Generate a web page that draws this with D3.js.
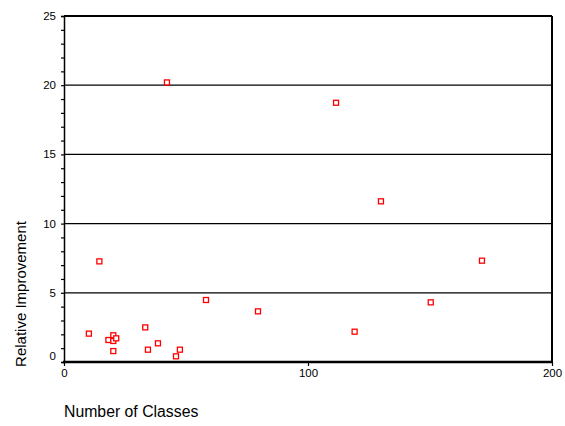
<!DOCTYPE html>
<html><head><meta charset="utf-8">
<script src="https://cdn.jsdelivr.net/npm/d3@7"></script>
<style>body{margin:0;background:#fff}svg{display:block}text{font-family:Arial,"Liberation Sans",sans-serif;fill:#000}</style>
</head><body>
<svg id="c" width="565" height="426"></svg>
<script>
const classes = [42.2, 111.5, 129.9, 171.3, 150.3, 119.1, 14.5, 10.2, 20.2, 18.2, 20.2, 21.4, 20.2, 33.3, 34.4, 38.5, 45.9, 47.5, 58.2, 79.5];
const improvement = [20.2, 18.73, 11.61, 7.32, 4.31, 2.19, 7.27, 2.05, 1.93, 1.59, 1.52, 1.71, 0.79, 2.50, 0.89, 1.35, 0.41, 0.89, 4.48, 3.66];
const xTicks = [0, 100, 200];
const yTicks = [0, 5, 10, 15, 20, 25];
const yMinor = d3.range(0, 26, 1);

const svg = d3.select("#c");
const L = 64, R = 552, T = 16, B = 362;
const x = d3.scaleLinear().domain([0, 200]).range([L, R]);
const y = d3.scaleLinear().domain([0, 25]).range([B, T]);

// gridlines
svg.append("g").selectAll("line").data(yTicks.filter(d => d > 0 && d < 25)).join("line")
  .attr("x1", L).attr("x2", R).attr("y1", d => y(d)).attr("y2", d => y(d))
  .attr("stroke", "#000").attr("stroke-width", 1.3);

// y axis
const ya = svg.append("g").attr("transform", `translate(${L},0)`)
  .call(d3.axisLeft(y).tickValues(yMinor).tickSize(3).tickFormat(""));
ya.select(".domain").attr("stroke-width", 1.5);
ya.selectAll("line").attr("stroke-width", 1.2);
svg.append("g").selectAll("text").data(yTicks).join("text")
  .attr("x", 56).attr("y", d => y(d) - (d === 0 ? 6 : 0)).attr("dy", "0.35em")
  .attr("text-anchor", "end").attr("font-size", 11.5).text(d => d);

// x axis
const xa = svg.append("g").attr("transform", `translate(0,${B})`)
  .call(d3.axisBottom(x).tickValues(xTicks).tickSize(4).tickPadding(3).tickFormat(d3.format("d")));
xa.select(".domain").remove();
xa.selectAll("line").attr("stroke-width", 1.2);
xa.selectAll("text").attr("font-size", 11.5).style("font-family", "Arial, 'Liberation Sans', sans-serif");

// frame: top, right, bottom
svg.append("line").attr("x1", L).attr("x2", R).attr("y1", y(25)).attr("y2", y(25)).attr("stroke", "#000").attr("stroke-width", 2);
svg.append("line").attr("x1", R).attr("x2", R).attr("y1", T).attr("y2", B).attr("stroke", "#000").attr("stroke-width", 2);
svg.append("line").attr("x1", L - 1).attr("x2", R + 1).attr("y1", B).attr("y2", B).attr("stroke", "#000").attr("stroke-width", 2.5);

// points
svg.append("g").selectAll("rect").data(classes.map((c, i) => [c, improvement[i]])).join("rect")
  .attr("x", d => x(d[0]) - 2.5).attr("y", d => y(d[1]) - 2.5)
  .attr("width", 5).attr("height", 5)
  .attr("fill", "#fff").attr("stroke", "#ff0000").attr("stroke-width", 1.3);

// labels
svg.append("text").attr("x", 64).attr("y", 417).attr("font-size", 15.8).text("Number of Classes");
svg.append("text").attr("transform", "translate(25.5,294) rotate(-90)").attr("text-anchor", "middle")
  .attr("font-size", 15).text("Relative Improvement");
</script>
</body></html>
